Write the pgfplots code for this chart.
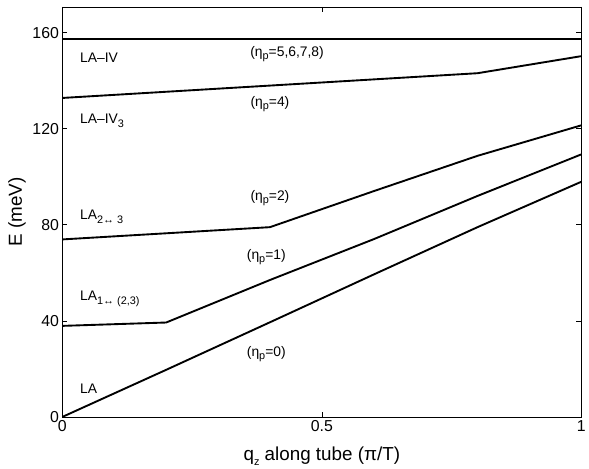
\documentclass[border=0pt]{standalone}
\usepackage{fontspec}
\setmainfont{Liberation Sans}
\usepackage{pgfplots}
\pgfplotsset{compat=1.18}
\newcommand{\sub}[1]{\raisebox{-0.45ex}{\fontsize{11}{11}\selectfont #1}}
\tikzset{
  lbl/.style={font=\fontsize{14}{16}\selectfont, anchor=west, inner sep=0pt},
  eta/.style={font=\fontsize{14}{16}\selectfont, inner sep=0pt},
}
\begin{document}
\begin{tikzpicture}
\begin{axis}[
  scale only axis, width=524pt, height=414pt,
  xmin=0, xmax=1, ymin=0, ymax=170.7,
  xtick={0,0.5,1}, xticklabels={0,0.5,1},
  ytick={0,40,80,120,160},
  tick align=inside, major tick length=5pt,
  tick style={black, line width=0.6pt},
  axis line style={line width=0.8pt},
  /pgf/number format/assume math mode=true,
  ticklabel style={font=\fontsize{16}{18}\selectfont},
  xlabel={q\sub{z} along tube (π/T)},
  ylabel={E (meV)},
  label style={font=\fontsize{19}{22}\selectfont},
  xlabel style={yshift=-9pt},
  clip=false,
  every axis plot post/.append style={black, mark=none, line width=1.9pt},
]
\addplot coordinates {(0,0) (0.2,19.6) (0.4,39.4) (0.6,59.3) (0.8,79.0) (1,97.9)};
\addplot coordinates {(0,37.9) (0.2,39.3) (0.4,57.0) (0.6,74.0) (0.8,92.0) (1,109.3)};
\addplot coordinates {(0,73.9) (0.4,79.0) (0.6,94.0) (0.8,108.7) (1,121.4)};
\addplot coordinates {(0,132.8) (0.8,143.1) (1,150.2)};
\addplot coordinates {(0,157.5) (0.5,157.5) (1,157.5)};

\node[lbl] at (axis cs:0.034,149.7) {LA–IV};
\node[lbl] at (axis cs:0.034,123.3) {LA–IV\sub{3}};
\node[lbl] at (axis cs:0.034,83.3) {LA\sub{2↔ 3}};
\node[lbl] at (axis cs:0.034,49.2) {LA\sub{1↔ (2,3)}};
\node[lbl] at (axis cs:0.034,11.7) {LA};

\node[eta] at (axis cs:0.433,151) {(η\sub{p}=5,6,7,8)};
\node[eta] at (axis cs:0.40,130.3) {(η\sub{p}=4)};
\node[eta] at (axis cs:0.40,91.1) {(η\sub{p}=2)};
\node[eta] at (axis cs:0.393,66.4) {(η\sub{p}=1)};
\node[eta] at (axis cs:0.393,26) {(η\sub{p}=0)};
\end{axis}
\path ([yshift=7pt]current axis.north);
\path ([xshift=-63pt]current axis.west);
\end{tikzpicture}
\end{document}
